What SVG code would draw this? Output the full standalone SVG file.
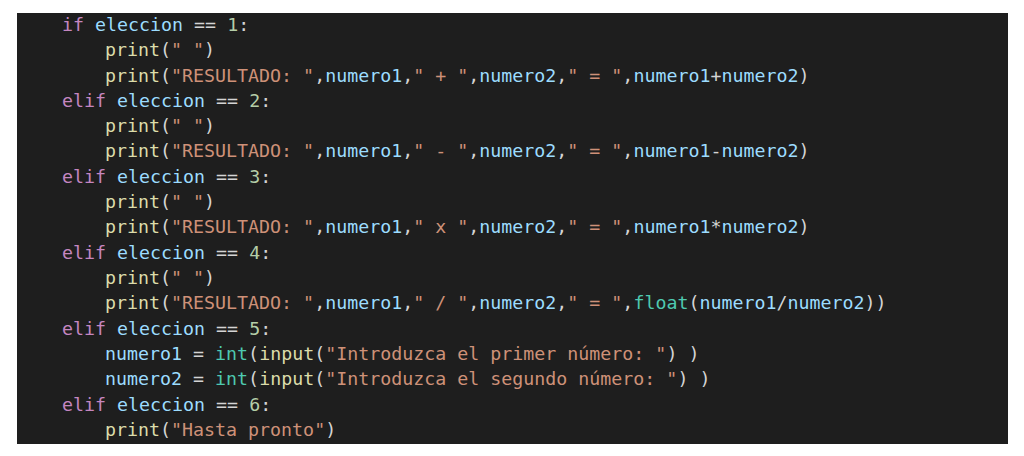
<svg xmlns="http://www.w3.org/2000/svg" width="1024" height="456" viewBox="0 0 1024 456">
<style>
text{font-family:"DejaVu Sans Mono","Liberation Mono",monospace;font-size:18.3px;fill:#d4d4d4;white-space:pre}
.k{fill:#c586c0}.v{fill:#9cdcfe}.n{fill:#b5cea8}.f{fill:#dcdcaa}.s{fill:#ce9178}.b{fill:#4ec9b0}
</style>
<rect width="1024" height="456" fill="#ffffff"/>
<rect x="17" y="13" width="991" height="431" fill="#1e1e1e"/>
<g id="code" xml:space="preserve" font-size="18.3">
<text x="62" y="31"><tspan class="k">if</tspan> <tspan class="v">eleccion</tspan> == <tspan class="n">1</tspan>:</text>
<text x="105" y="56"><tspan class="f">print</tspan>(<tspan class="s">" "</tspan>)</text>
<text x="105" y="82"><tspan class="f">print</tspan>(<tspan class="s">"RESULTADO: "</tspan>,<tspan class="v">numero1</tspan>,<tspan class="s">" + "</tspan>,<tspan class="v">numero2</tspan>,<tspan class="s">" = "</tspan>,<tspan class="v">numero1</tspan>+<tspan class="v">numero2</tspan>)</text>
<text x="62" y="107"><tspan class="k">elif</tspan> <tspan class="v">eleccion</tspan> == <tspan class="n">2</tspan>:</text>
<text x="105" y="132"><tspan class="f">print</tspan>(<tspan class="s">" "</tspan>)</text>
<text x="105" y="157"><tspan class="f">print</tspan>(<tspan class="s">"RESULTADO: "</tspan>,<tspan class="v">numero1</tspan>,<tspan class="s">" - "</tspan>,<tspan class="v">numero2</tspan>,<tspan class="s">" = "</tspan>,<tspan class="v">numero1</tspan>-<tspan class="v">numero2</tspan>)</text>
<text x="62" y="183"><tspan class="k">elif</tspan> <tspan class="v">eleccion</tspan> == <tspan class="n">3</tspan>:</text>
<text x="105" y="208"><tspan class="f">print</tspan>(<tspan class="s">" "</tspan>)</text>
<text x="105" y="233"><tspan class="f">print</tspan>(<tspan class="s">"RESULTADO: "</tspan>,<tspan class="v">numero1</tspan>,<tspan class="s">" x "</tspan>,<tspan class="v">numero2</tspan>,<tspan class="s">" = "</tspan>,<tspan class="v">numero1</tspan>*<tspan class="v">numero2</tspan>)</text>
<text x="62" y="259"><tspan class="k">elif</tspan> <tspan class="v">eleccion</tspan> == <tspan class="n">4</tspan>:</text>
<text x="105" y="284"><tspan class="f">print</tspan>(<tspan class="s">" "</tspan>)</text>
<text x="105" y="309"><tspan class="f">print</tspan>(<tspan class="s">"RESULTADO: "</tspan>,<tspan class="v">numero1</tspan>,<tspan class="s">" / "</tspan>,<tspan class="v">numero2</tspan>,<tspan class="s">" = "</tspan>,<tspan class="b">float</tspan>(<tspan class="v">numero1</tspan>/<tspan class="v">numero2</tspan>))</text>
<text x="62" y="335"><tspan class="k">elif</tspan> <tspan class="v">eleccion</tspan> == <tspan class="n">5</tspan>:</text>
<text x="105" y="360"><tspan class="v">numero1</tspan> = <tspan class="b">int</tspan>(<tspan class="f">input</tspan>(<tspan class="s">"Introduzca el primer número: "</tspan>) )</text>
<text x="105" y="385"><tspan class="v">numero2</tspan> = <tspan class="b">int</tspan>(<tspan class="f">input</tspan>(<tspan class="s">"Introduzca el segundo número: "</tspan>) )</text>
<text x="62" y="411"><tspan class="k">elif</tspan> <tspan class="v">eleccion</tspan> == <tspan class="n">6</tspan>:</text>
<text x="105" y="436"><tspan class="f">print</tspan>(<tspan class="s">"Hasta pronto"</tspan>)</text>
</g>
</svg>
